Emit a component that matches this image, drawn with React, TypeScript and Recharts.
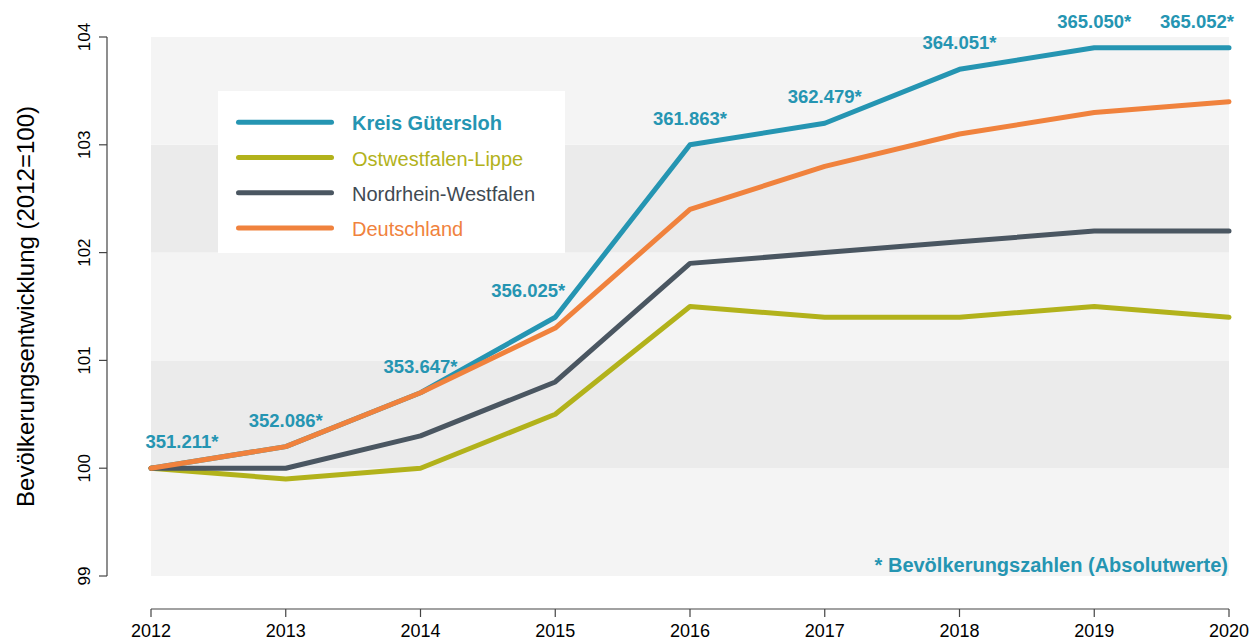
import React from 'react';
import {
  LineChart,
  Line,
  XAxis,
  YAxis,
  ReferenceArea,
  LabelList,
  Legend,
} from 'recharts';

// ---------- data ----------
const years = ['2012', '2013', '2014', '2015', '2016', '2017', '2018', '2019', '2020'];
const guetersloh = [100, 100.2, 100.7, 101.4, 103.0, 103.2, 103.7, 103.9, 103.9];
const owl = [100, 99.9, 100.0, 100.5, 101.5, 101.4, 101.4, 101.5, 101.4];
const nrw = [100, 100.0, 100.3, 100.8, 101.9, 102.0, 102.1, 102.2, 102.2];
const deutschland = [100, 100.2, 100.7, 101.3, 102.4, 102.8, 103.1, 103.3, 103.4];
const guetersloAbs = [351211, 352086, 353647, 356025, 361863, 362479, 364051, 365050, 365052];
const yTicks = [99, 100, 101, 102, 103, 104];
const bandEdges = [99, 100, 101, 102, 103, 104];

const seriesNames = ['Kreis Gütersloh', 'Ostwestfalen-Lippe', 'Nordrhein-Westfalen', 'Deutschland'];
const seriesKeys = ['guetersloh', 'owl', 'nrw', 'de'];

// ---------- styles ----------
const TEAL = '#2595b2';
const OLIVE = '#b2b21b';
const GREY = '#4a5661';
const ORANGE = '#f0823d';
const seriesColors = [TEAL, OLIVE, GREY, ORANGE];
const legendTextColors = [TEAL, OLIVE, '#3f4a53', ORANGE];
const bandFills = ['#f4f4f4', '#ebebeb'];
const labelDx = [31, 0, 0, -27, 0, 0, 0, 0, -32];
const FONT = '"Liberation Sans", Arial, Helvetica, sans-serif';

const data = years.map((year, i) => ({
  year,
  guetersloh: guetersloh[i],
  owl: owl[i],
  nrw: nrw[i],
  de: deutschland[i],
  abs: guetersloAbs[i],
}));

const fmt = (n: number) => String(n).replace(/\B(?=(\d{3})+(?!\d))/g, '.') + '*';

const YTick = (props: any) => {
  const { x, y, payload } = props;
  return (
    <text
      x={x}
      y={y}
      transform={`rotate(-90 ${x} ${y})`}
      textAnchor="middle"
      fontSize={17}
      fill="#000"
    >
      {payload.value}
    </text>
  );
};

const GLabel = (props: any) => {
  const x = props.x ?? props.viewBox?.x;
  const y = props.y ?? props.viewBox?.y;
  const index = props.index ?? 0;
  return (
    <text
      x={x + labelDx[index]}
      y={y - 20}
      textAnchor="middle"
      fill={TEAL}
      fontSize={18.5}
      fontWeight="bold"
    >
      {fmt(props.value)}
    </text>
  );
};

const FootLabel = (props: any) => {
  const vb = props.viewBox || {};
  return (
    <text
      x={vb.x + vb.width - 1}
      y={vb.y + vb.height - 4}
      textAnchor="end"
      fill={TEAL}
      fontSize={20}
      fontWeight="bold"
    >
      * Bevölkerungszahlen (Absolutwerte)
    </text>
  );
};

const renderLegend = () => (
  <svg width={347} height={162} style={{ display: 'block' }}>
    <rect x={0} y={0} width={347} height={162} fill="#fff" />
    {seriesNames.map((name, i) => {
      const ly = 31.3 + i * 35.2;
      return (
        <g key={name}>
          <line
            x1={20.5}
            x2={113.5}
            y1={ly}
            y2={ly}
            stroke={seriesColors[i]}
            strokeWidth={5}
            strokeLinecap="round"
          />
          <text
            x={134}
            y={ly + 8}
            fontSize={20}
            fontWeight={i === 0 ? 'bold' : 'normal'}
            fill={legendTextColors[i]}
          >
            {name}
          </text>
        </g>
      );
    })}
  </svg>
);

export default function App() {
  return (
    <div style={{ position: 'absolute', left: 0, top: 0, fontFamily: FONT }}>
      <LineChart
        width={1260}
        height={640}
        data={data}
        margin={{ top: 37, right: 31, bottom: 0, left: 0 }}
      >
        <XAxis
          xAxisId="inner"
          dataKey="year"
          height={33}
          tick={false}
          axisLine={false}
          tickLine={false}
        />
        <XAxis
          xAxisId="outer"
          dataKey="year"
          height={31}
          interval={0}
          tickSize={8}
          tickMargin={7}
          axisLine={{ stroke: '#444', strokeWidth: 1.2 }}
          tickLine={{ stroke: '#444', strokeWidth: 1.2 }}
          tick={{ fill: '#000', fontSize: 18 }}
        />
        <YAxis
          yAxisId="inner"
          width={44}
          domain={[99, 104]}
          tick={false}
          axisLine={false}
          tickLine={false}
        />
        <YAxis
          yAxisId="outer"
          width={107}
          domain={[99, 104]}
          ticks={yTicks}
          interval={0}
          tickSize={8}
          tickMargin={9}
          axisLine={{ stroke: '#444', strokeWidth: 1.2 }}
          tickLine={{ stroke: '#444', strokeWidth: 1.2 }}
          tick={<YTick />}
          label={{
            value: 'Bevölkerungsentwicklung (2012=100)',
            angle: -90,
            position: 'insideLeft',
            offset: 25,
            style: { textAnchor: 'middle', fontSize: 24, fill: '#000' },
          }}
        />
        {bandEdges.slice(0, -1).map((lo, i) => (
          <ReferenceArea
            key={lo}
            xAxisId="outer"
            yAxisId="outer"
            y1={lo}
            y2={bandEdges[i + 1]}
            fill={bandFills[i % 2]}
            fillOpacity={1}
            stroke="none"
            label={i === 0 ? <FootLabel /> : undefined}
          />
        ))}
        <Legend
          layout="vertical"
          align="center"
          verticalAlign="middle"
          wrapperStyle={{ left: 218, top: 91, width: 347, height: 162 }}
          content={renderLegend}
        />
        {seriesKeys.map((k, i) => (
          <Line
            key={k}
            xAxisId="outer"
            yAxisId="outer"
            type="linear"
            dataKey={k}
            name={seriesNames[i]}
            stroke={seriesColors[i]}
            strokeWidth={5}
            strokeLinecap="round"
            strokeLinejoin="round"
            dot={false}
            activeDot={false}
            isAnimationActive={false}
          >
            {k === 'guetersloh' ? (
              <LabelList dataKey="abs" content={<GLabel />} />
            ) : null}
          </Line>
        ))}
      </LineChart>
    </div>
  );
}
